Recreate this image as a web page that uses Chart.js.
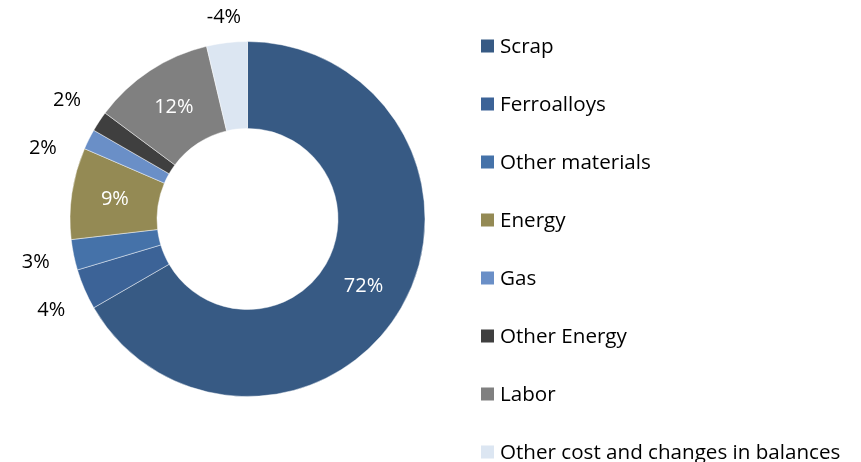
<!DOCTYPE html>
<html>
<head>
<meta charset="utf-8">
<script src="https://cdn.jsdelivr.net/npm/chart.js@4.4.1/dist/chart.umd.min.js"></script>
<style>
    html, body { margin: 0; padding: 0; background: #fff; }
    #wrap { width: 861px; height: 462px; position: relative; }
</style>
</head>
<body>
<div id="wrap"><canvas id="costChart" width="861" height="462"></canvas></div>
<script>
        // cost breakdown values (last slice is the negative -4% drawn as a 4% slice)
        const categories = ['Scrap', 'Ferroalloys', 'Other materials', 'Energy', 'Gas', 'Other Energy', 'Labor', 'Other cost and changes in balances'];
        const shares = [72, 4, 3, 9, 2, 2, 12, 4];
        const shareLabels = ['72%', '4%', '3%', '9%', '2%', '2%', '12%', '-4%'];
        const sliceColors = ['#375A84', '#3C6397', '#4572A9', '#948A54', '#6A8FC7', '#3F3F3F', '#808080', '#DCE6F2'];

        const FONT = '"Open Sans", sans-serif';

        const sliceLabelPlugin = {
            id: 'sliceLabels',
            afterDatasetsDraw(chart) {
                const ctx = chart.ctx;
                const meta = chart.getDatasetMeta(0);
                ctx.save();
                ctx.font = '20px ' + FONT;
                ctx.textAlign = 'center';
                ctx.textBaseline = 'middle';
                const outside = [];
                meta.data.forEach((arc, i) => {
                    const p = arc.getProps(['x', 'y', 'startAngle', 'endAngle', 'innerRadius', 'outerRadius'], true);
                    const mid = (p.startAngle + p.endAngle) / 2;
                    const text = shareLabels[i];
                    if (shares[i] >= 5) {
                        const r = (p.innerRadius + p.outerRadius) / 2;
                        ctx.fillStyle = '#ffffff';
                        ctx.fillText(text, p.x + Math.cos(mid) * r, p.y + Math.sin(mid) * r);
                    } else {
                        const hw = ctx.measureText(text).width / 2;
                        const r = p.outerRadius + 12 + Math.abs(Math.cos(mid)) * hw * 1.8 + Math.abs(Math.sin(mid)) * 10;
                        outside.push({ text, r, cx: p.x, cy: p.y, x: p.x + Math.cos(mid) * r, y: p.y + Math.sin(mid) * r });
                    }
                });
                // push crowded labels on the left side downwards, keep them on their ring
                const left = outside.filter(l => l.x < l.cx).sort((a, b) => a.y - b.y);
                for (let k = 1; k < left.length; k++) {
                    const minY = left[k - 1].y + 48;
                    if (left[k].y < minY) {
                        left[k].y = minY;
                        const dy = left[k].y - left[k].cy;
                        left[k].x = left[k].cx - Math.sqrt(Math.max(left[k].r * left[k].r - dy * dy, 0));
                    }
                }
                ctx.fillStyle = '#000000';
                outside.forEach(l => ctx.fillText(l.text, l.x, l.y));
                ctx.restore();
            }
        };

        const sideLegendPlugin = {
            id: 'sideLegend',
            afterDraw(chart) {
                const ctx = chart.ctx;
                const left = chart.chartArea.right - 14;
                const top = 46;
                const step = 58;
                ctx.save();
                ctx.font = '20.6px ' + FONT;
                ctx.textBaseline = 'middle';
                ctx.textAlign = 'left';
                chart.data.labels.forEach((label, i) => {
                    const y = top + i * step;
                    ctx.fillStyle = sliceColors[i];
                    ctx.fillRect(left, y - 6.5, 13, 13);
                    ctx.fillStyle = '#000000';
                    ctx.fillText(label, left + 19, y + 1);
                });
                ctx.restore();
            }
        };

        const ctx = document.getElementById('costChart').getContext('2d');
        window.costChart = new Chart(ctx, {
            type: 'doughnut',
            data: {
                labels: categories,
                datasets: [{
                    data: shares,
                    backgroundColor: sliceColors,
                    borderColor: 'rgba(255,255,255,0.45)',
                    borderWidth: 1
                }]
            },
            options: {
                responsive: false,
                animation: false,
                cutout: '51%',
                layout: { padding: { top: 41, bottom: 65, left: 0, right: 366 } },
                plugins: {
                    legend: { display: false },
                    tooltip: { enabled: false }
                }
            },
            plugins: [sliceLabelPlugin, sideLegendPlugin]
        });
</script>
</body>
</html>
